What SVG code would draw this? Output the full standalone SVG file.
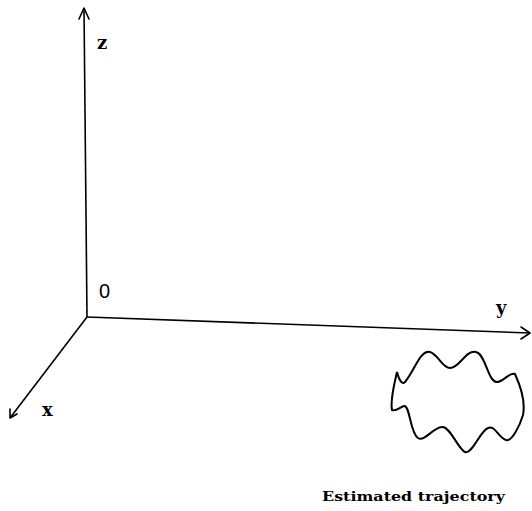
<svg xmlns="http://www.w3.org/2000/svg" width="532" height="511" viewBox="0 0 532 511">
<style>
.ax{stroke:#000;stroke-width:1.6;fill:none}
.head{stroke:#000;stroke-width:1.6;fill:none;stroke-linecap:round;stroke-linejoin:round}
.lbl{font-family:"DejaVu Serif","Liberation Serif",serif;font-size:18px;fill:#000}
.num{font-family:"Liberation Sans",Arial,sans-serif;font-size:20px;fill:#000}
</style>
<g id="connectors">
<line class="ax" x1="87" y1="317" x2="84" y2="8"/>
<path class="head" d="M79,19 L84,8 L89,19"/>
<line class="ax" x1="87" y1="317" x2="530" y2="333"/>
<path class="head" d="M521,327 L530,333 L521,339"/>
<line class="ax" x1="87" y1="317" x2="10" y2="418"/>
<path class="head" d="M10,409 L10,418 L17,414"/>
</g>
<g id="labels">
<text class="lbl" x="97" y="49" font-weight="bold">z</text>
<text class="num" x="99" y="298">0</text>
<text class="lbl" x="496" y="314" font-weight="bold">y</text>
<text class="lbl" x="42" y="416" font-weight="bold">x</text>
</g>
<g id="trajectory">
<path d="M397,372 C399,380 402,385 405,382 C415,370 420,350 430,352 C438,354 442,368 450,368 C460,368 465,350 476,352 C486,354 488,384 498,382 C505,380 510,372 515,374 C520,385 526,400 523,415 C520,425 512,442 506,440 C498,437 495,425 488,428 C480,431 472,455 465,452 C458,449 450,426 442,427 C432,428 425,442 418,438 C410,433 410,405 404,406 C400,407 396,412 392,410 C390,400 394,385 397,372 Z" fill="none" stroke="#000" stroke-width="2"/>
<text x="322" y="501" font-family="DejaVu Serif, Liberation Serif, serif" font-size="13" font-weight="bold" textLength="183" lengthAdjust="spacingAndGlyphs">Estimated trajectory</text>
</g>
</svg>
